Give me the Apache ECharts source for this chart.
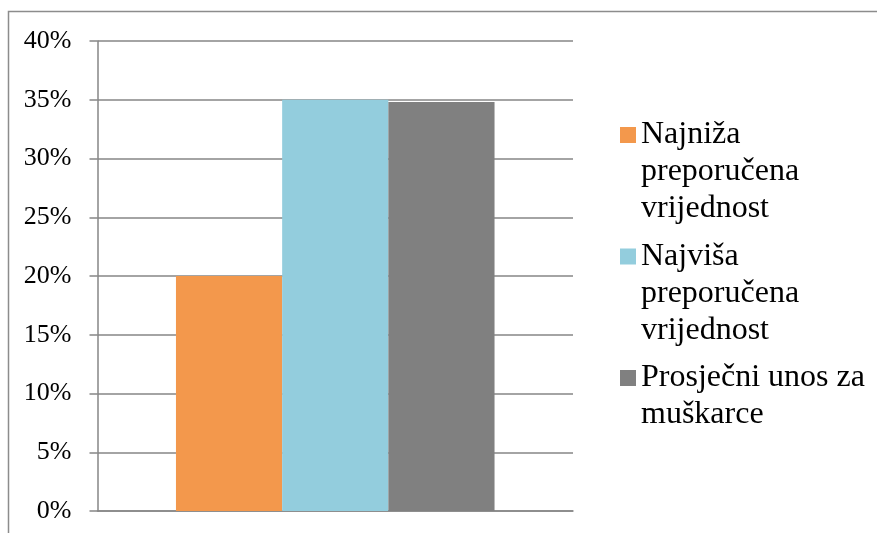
<!DOCTYPE html>
<html>
<head>
<meta charset="utf-8">
<script src="https://cdn.jsdelivr.net/npm/echarts@6/dist/echarts.min.js"></script>
<style>html,body{margin:0;padding:0;background:#fff;}#c{width:877px;height:533px;}</style>
</head>
<body>
<div id="c"></div>
<script>
var categories = [''];
var seriesNames = ['Najniža preporučena vrijednost', 'Najviša preporučena vrijednost', 'Prosječni unos za muškarce'];
var legendLines = [['Najniža', 'preporučena', 'vrijednost'], ['Najviša', 'preporučena', 'vrijednost'], ['Prosječni unos za', 'muškarce']];
var values = [20, 35, 34.8];
var colors = ['#F3984C', '#93CDDD', '#808080'];
var yTicks = [0, 5, 10, 15, 20, 25, 30, 35, 40];

var FONT = '"Liberation Serif", "Times New Roman", serif';
var chart = echarts.init(document.getElementById('c'), null, {renderer: 'canvas'});

var series = seriesNames.map(function (n, i) {
  return {
    name: n, type: 'bar', data: [values[i]],
    barGap: '0%', barCategoryGap: '33%',
    itemStyle: {color: colors[i]},
    emphasis: {disabled: true}
  };
});

var legendTops = [135, 256.5, 378];
var lineH = 37;
var legends = seriesNames.map(function (n, i) {
  var lines = legendLines[i];
  var pad = lines.length - 1;
  var total = lines.length + pad;
  return {
    data: [n],
    orient: 'vertical',
    left: 620,
    top: legendTops[i] - total * lineH / 2,
    padding: 0,
    icon: 'rect',
    itemWidth: 16,
    itemHeight: 16,
    itemGap: 0,
    selectedMode: false,
    formatter: function () {
      var s = '';
      for (var k = 0; k < pad; k++) s += ' \n';
      return s + lines.join('\n');
    },
    textStyle: {fontFamily: FONT, fontSize: 32, color: '#000', lineHeight: lineH}
  };
});

chart.setOption({
  animation: false,
  grid: {left: 97.5, right: 304, top: 41, bottom: 22, containLabel: false},
  legend: legends,
  xAxis: {
    type: 'category', data: categories,
    axisLine: {show: true, lineStyle: {color: '#868686', width: 1.5}},
    axisTick: {show: false},
    axisLabel: {show: false}
  },
  yAxis: {
    type: 'value', min: 0, max: 40, interval: 5,
    axisLine: {show: true, lineStyle: {color: '#868686', width: 1.5}},
    axisTick: {show: true, length: 8, lineStyle: {color: '#868686', width: 1.5}},
    splitLine: {show: true, lineStyle: {color: '#868686', width: 1.5}},
    axisLabel: {
      margin: 26, fontFamily: FONT, fontSize: 26, color: '#000',
      formatter: function (v) { return yTicks.indexOf(v) >= 0 ? v + '%' : ''; }
    }
  },
  graphic: [{
    type: 'rect', silent: true,
    shape: {x: 8.5, y: 11.5, width: 880, height: 540},
    style: {fill: 'none', stroke: '#8c8c8c', lineWidth: 1.5}
  }],
  series: series
});
</script>
</body>
</html>
